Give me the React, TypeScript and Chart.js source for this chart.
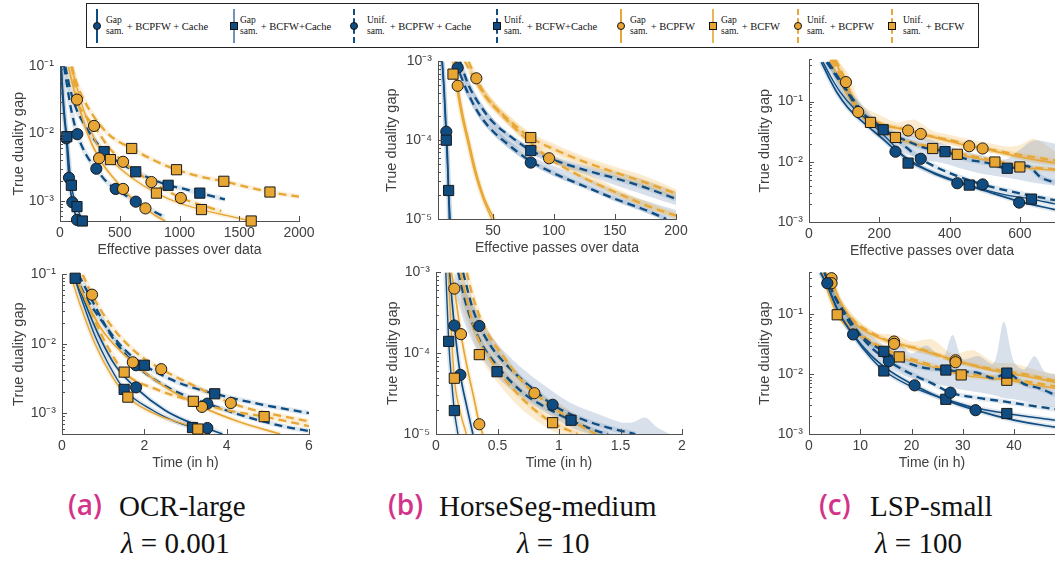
import React, { useEffect, useRef } from 'react';
import { Chart, registerables } from 'chart.js';

Chart.register(...registerables);

type P = [number, number];
type B = [number, number, number];

// ---------------- (a) OCR-large : effective passes ----------------
const aT_gPC: P[] = [[8, 0.1], [20, 0.04], [35, 0.018], [53, 0.0085], [75, 0.0022], [103, 0.00095], [142, 0.00054], [155, 0.0005]];
const aT_gPC_mk: P[] = [[53, 0.0085], [75, 0.0022], [103, 0.00095], [142, 0.00052]];
const aT_gFC: P[] = [[12, 0.1], [25, 0.04], [40, 0.018], [57, 0.009], [95, 0.0017], [142, 0.00082], [187, 0.0005]];
const aT_gFC_mk: P[] = [[57, 0.009], [95, 0.0017], [142, 0.00082], [187, 0.0005]];
const aT_uPC: P[] = [[35, 0.1], [60, 0.05], [100, 0.02], [145, 0.0098], [220, 0.0048], [304, 0.003], [380, 0.002], [466, 0.0015], [550, 0.0012], [634, 0.00097], [750, 0.00075], [870, 0.00058]];
const aT_uPC_mk: P[] = [[145, 0.0098], [304, 0.003], [466, 0.0015], [634, 0.00097]];
const aT_uFC: P[] = [[45, 0.1], [80, 0.05], [130, 0.025], [200, 0.014], [280, 0.0085], [369, 0.0054], [500, 0.0037], [634, 0.0027], [770, 0.0021], [905, 0.0017], [1040, 0.0015], [1170, 0.0013], [1380, 0.00105]];
const aT_uFC_mk: P[] = [[369, 0.0054], [634, 0.0027], [905, 0.0017], [1170, 0.0013]];
const aT_gP: P[] = [[70, 0.1], [110, 0.05], [160, 0.025], [230, 0.01], [327, 0.0043], [420, 0.0025], [528, 0.0015], [620, 0.001], [715, 0.00077], [800, 0.0006], [880, 0.0005]];
const aT_gP_mk: P[] = [[327, 0.0043], [528, 0.0015], [715, 0.00077]];
const aT_gF: P[] = [[95, 0.1], [140, 0.05], [200, 0.022], [300, 0.0075], [422, 0.0041], [600, 0.0022], [807, 0.0013], [1000, 0.00092], [1184, 0.00074], [1400, 0.0006], [1600, 0.0005]];
const aT_gF_mk: P[] = [[422, 0.0041], [807, 0.0013], [1184, 0.00074], [1600, 0.0005]];
const aT_uP: P[] = [[100, 0.1], [142, 0.032], [200, 0.02], [285, 0.013], [400, 0.0065], [528, 0.0038], [650, 0.0026], [765, 0.0019], [900, 0.0014], [1011, 0.0011], [1150, 0.0009], [1350, 0.0007]];
const aT_uP_mk: P[] = [[142, 0.032], [285, 0.013], [528, 0.0038], [765, 0.0019], [1011, 0.0011]];
const aT_uF: P[] = [[95, 0.1], [150, 0.05], [250, 0.022], [400, 0.01], [600, 0.006], [800, 0.0039], [975, 0.0029], [1171, 0.0023], [1371, 0.00195], [1570, 0.0016], [1757, 0.00135], [2000, 0.00115]];
const aT_uF_mk: P[] = [[600, 0.006], [975, 0.0029], [1371, 0.00195], [1757, 0.00135]];

// ---------------- (a) OCR-large : time ----------------
const aB_gPC: P[] = [[0.3, 0.1], [0.55, 0.04], [0.9, 0.013], [1.3, 0.0048], [1.8, 0.0023], [2.5, 0.0011], [3.0, 0.00078], [3.53, 0.0006], [3.9, 0.0005]];
const aB_gPC_mk: P[] = [[1.8, 0.00235], [3.53, 0.00061]];
const aB_gFC: P[] = [[0.28, 0.1], [0.5, 0.04], [0.8, 0.013], [1.1, 0.0055], [1.51, 0.0022], [2.2, 0.0011], [2.7, 0.00078], [3.17, 0.00062], [3.6, 0.0005]];
const aB_gFC_mk: P[] = [[1.51, 0.0022], [3.17, 0.00062]];
const aB_uPC: P[] = [[0.4, 0.1], [0.75, 0.04], [1.2, 0.013], [1.8, 0.0049], [2.6, 0.0023], [3.53, 0.00137], [4.5, 0.00088], [5.3, 0.00066], [6, 0.00055]];
const aB_uPC_mk: P[] = [[1.8, 0.0049], [3.53, 0.00137]];
const aB_uFC: P[] = [[0.3, 0.1], [0.6, 0.045], [1.0, 0.02], [1.5, 0.0085], [2.0, 0.0049], [2.8, 0.0028], [3.71, 0.0019], [4.8, 0.00135], [6, 0.001]];
const aB_uFC_mk: P[] = [[0.32, 0.088], [2.0, 0.0049], [3.71, 0.0019]];
const aB_gP: P[] = [[0.3, 0.1], [0.6, 0.04], [1.0, 0.015], [1.72, 0.0054], [2.5, 0.0024], [3.4, 0.00123], [4.3, 0.00075], [5.3, 0.0005]];
const aB_gP_mk: P[] = [[1.72, 0.0054], [3.4, 0.00123]];
const aB_gF: P[] = [[0.2, 0.1], [0.45, 0.035], [0.8, 0.01], [1.2, 0.0035], [1.6, 0.0017], [2.3, 0.00095], [3.3, 0.00059], [3.5, 0.0005]];
const aB_gF_mk: P[] = [[1.6, 0.0017], [3.3, 0.00059]];
const aB_uP: P[] = [[0.5, 0.1], [0.73, 0.051], [1.2, 0.018], [1.8, 0.0075], [2.41, 0.0043], [3.2, 0.0025], [4.1, 0.0014], [5, 0.001], [6, 0.00076]];
const aB_uP_mk: P[] = [[0.73, 0.051], [2.41, 0.0043], [4.1, 0.0014]];
const aB_uF: P[] = [[0.3, 0.1], [0.6, 0.04], [1.0, 0.012], [1.51, 0.0039], [2.3, 0.0022], [3.19, 0.00148], [4.0, 0.0011], [4.91, 0.00089], [6, 0.00065]];
const aB_uF_mk: P[] = [[1.51, 0.0039], [3.19, 0.00148], [4.91, 0.00089]];

// ---------------- (b) HorseSeg-medium : effective passes ----------------
const bT_gPC: P[] = [[8.5, 0.001], [10, 0.00045], [11.8, 0.000128], [13, 0.00005], [14.3, 0.00001]];
const bT_gPC_mk: P[] = [[11.8, 0.000128]];
const bT_gFC: P[] = [[8.3, 0.001], [10, 0.0004], [11.8, 0.0001], [13.7, 0.000023], [15, 0.00001]];
const bT_gFC_mk: P[] = [[11.8, 0.0001], [13.7, 0.000023]];
const bT_uPC: P[] = [[19, 0.001], [21.1, 0.00083], [30, 0.00038], [40, 0.0002], [50, 0.00013], [65, 0.000082], [81, 0.000054], [100, 0.000038], [120, 0.000028], [150, 0.000018], [175, 0.000013], [192, 0.00001]];
const bT_uPC_mk: P[] = [[21.1, 0.00083], [81, 0.000052]];
const bT_uFC: P[] = [[23, 0.001], [30, 0.0005], [40, 0.00027], [50, 0.00017], [65, 0.00011], [81, 0.000074], [100, 0.000056], [125, 0.000042], [150, 0.000033], [175, 0.000025], [200, 0.000018]];
const bT_uFC_mk: P[] = [[81, 0.000074]];
const bT_gP: P[] = [[19, 0.001], [21.1, 0.0005], [25, 0.00022], [30, 0.0001], [36, 0.00004], [43, 0.000018], [51, 0.00001]];
const bT_gP_mk: P[] = [[21.1, 0.00049]];
const bT_gF: P[] = [[17, 0.001], [20, 0.0005], [24, 0.00022], [29, 0.0001], [35, 0.00004], [42, 0.000018], [49, 0.00001]];
const bT_gF_mk: P[] = [[17.3, 0.00069]];
const bT_uP: P[] = [[30, 0.001], [36.4, 0.00061], [45, 0.00035], [60, 0.00019], [80, 0.000095], [96, 0.000059], [120, 0.000036], [150, 0.000022], [175, 0.000015], [200, 0.000011]];
const bT_uP_mk: P[] = [[36.4, 0.00061], [96, 0.000059]];
const bT_uF: P[] = [[27, 0.001], [35, 0.0006], [45, 0.00034], [60, 0.0002], [81, 0.000108], [100, 0.000077], [125, 0.000053], [150, 0.000039], [175, 0.000029], [200, 0.000021]];
const bT_uF_mk: P[] = [[81, 0.000108]];
const bT_uPC_band: B[] = [[25, 0.00048, 0.00062], [40, 0.00018, 0.00023], [60, 0.000085, 0.00011], [81, 0.00005, 0.000064], [100, 0.000035, 0.000047], [125, 0.000025, 0.000034], [150, 0.000017, 0.000023], [175, 0.000012, 0.000017], [200, 0.0000085, 0.000013]];
const bT_uFC_band: B[] = [[25, 0.00065, 0.00085], [40, 0.00024, 0.0003], [60, 0.0001, 0.00013], [81, 0.000066, 0.000083], [100, 0.00005, 0.000063], [125, 0.000037, 0.000048], [150, 0.000027, 0.00004], [175, 0.00002, 0.000031], [200, 0.000015, 0.000022]];
const bT_uF_band: B[] = [[30, 0.0007, 0.00095], [45, 0.00029, 0.0004], [60, 0.00017, 0.00023], [81, 0.000093, 0.000125], [100, 0.000066, 0.00009], [125, 0.000046, 0.000062], [150, 0.000034, 0.000046], [175, 0.000025, 0.000035], [200, 0.000018, 0.000024]];
const bT_uP_band: B[] = [[40, 0.00042, 0.00052], [60, 0.00017, 0.00021], [80, 0.000085, 0.000105], [100, 0.000052, 0.000064], [125, 0.000032, 0.00004], [150, 0.00002, 0.000025], [175, 0.000014, 0.000017], [200, 0.00001, 0.000012]];

// ---------------- (b) HorseSeg-medium : time ----------------
const bB_gFC: P[] = [[0.08, 0.001], [0.103, 0.00014], [0.13, 0.00004], [0.149, 0.0000195], [0.178, 0.00001]];
const bB_gFC_mk: P[] = [[0.103, 0.00014], [0.149, 0.0000195]];
const bB_gPC: P[] = [[0.11, 0.001], [0.149, 0.00022], [0.198, 0.000054], [0.25, 0.000022], [0.3, 0.00001]];
const bB_gPC_mk: P[] = [[0.149, 0.00022], [0.198, 0.000054]];
const bB_gP: P[] = [[0.125, 0.001], [0.149, 0.00063], [0.203, 0.00017], [0.26, 0.00006], [0.31, 0.000027], [0.352, 0.0000135], [0.38, 0.00001]];
const bB_gP_mk: P[] = [[0.149, 0.00063], [0.203, 0.000172], [0.352, 0.0000132]];
const bB_gF: P[] = [[0.1, 0.001], [0.12, 0.00025], [0.149, 0.000049], [0.2, 0.000018], [0.247, 0.00001]];
const bB_gF_mk: P[] = [[0.149, 0.000049]];
const bB_uPC: P[] = [[0.22, 0.001], [0.3, 0.00035], [0.352, 0.00022], [0.45, 0.00012], [0.6, 0.000065], [0.8, 0.000035], [0.948, 0.000023], [1.2, 0.000015], [1.4, 0.000012], [1.62, 0.00001]];
const bB_uPC_mk: P[] = [[0.352, 0.000217], [0.948, 0.000023]];
const bB_uFC: P[] = [[0.18, 0.001], [0.25, 0.00038], [0.35, 0.00015], [0.496, 0.00007], [0.7, 0.000033], [0.9, 0.000021], [1.098, 0.0000148], [1.3, 0.000011], [1.4, 0.00001]];
const bB_uFC_mk: P[] = [[0.496, 0.000059], [1.098, 0.0000148]];
const bB_uP: P[] = [[0.25, 0.001], [0.3, 0.0005], [0.4, 0.0002], [0.55, 0.00009], [0.7, 0.000045], [0.8, 0.000032], [1.0, 0.000019], [1.2, 0.000012], [1.3, 0.00001]];
const bB_uP_mk: P[] = [[0.8, 0.000032]];
const bB_uF: P[] = [[0.2, 0.001], [0.28, 0.0003], [0.352, 0.00014], [0.45, 0.00008], [0.6, 0.00004], [0.8, 0.00002], [0.948, 0.0000138], [1.15, 0.00001]];
const bB_uF_mk: P[] = [[0.352, 0.000096], [0.948, 0.0000138]];
const bB_blueBand: B[] = [[0.15, 0.0006, 0.001], [0.25, 0.0002, 0.00055], [0.35, 0.0001, 0.00028], [0.5, 0.00005, 0.00013], [0.7, 0.000028, 0.000065], [0.9, 0.000018, 0.000038], [1.1, 0.000012, 0.000024], [1.3, 0.0000095, 0.000018], [1.5, 0.0000085, 0.000014], [1.6, 0.0000085, 0.000014], [1.7, 0.000008, 0.000016], [1.8, 0.000008, 0.000012], [1.9, 0.000008, 0.00001]];
const bB_orangeBand: B[] = [[0.2, 0.0004, 0.001], [0.3, 0.00015, 0.00045], [0.4, 0.00007, 0.00022], [0.55, 0.000035, 0.0001], [0.7, 0.00002, 0.00005], [0.9, 0.000012, 0.000028], [1.0, 0.00001, 0.000024], [1.1, 0.000009, 0.000019], [1.2, 0.000008, 0.000014], [1.35, 0.000008, 0.00001]];

// ---------------- (c) LSP-small : effective passes ----------------
const cT_gPC: P[] = [[35, 0.45], [55, 0.26], [80, 0.14], [110, 0.08], [160, 0.042], [210, 0.024], [246, 0.0155], [300, 0.0095], [360, 0.0062], [422, 0.0046], [500, 0.0033], [598, 0.0022], [700, 0.0016]];
const cT_gPC_mk: P[] = [[246, 0.0147], [422, 0.0044], [598, 0.0021]];
const cT_gFC: P[] = [[40, 0.45], [60, 0.27], [90, 0.14], [130, 0.075], [180, 0.042], [230, 0.022], [282, 0.0105], [350, 0.0068], [456, 0.0041], [550, 0.0029], [633, 0.0024], [700, 0.002]];
const cT_gFC_mk: P[] = [[282, 0.0095], [456, 0.0041], [633, 0.0024]];
const cT_uPC: P[] = [[50, 0.45], [80, 0.25], [110, 0.14], [140, 0.075], [200, 0.04], [260, 0.021], [318, 0.0112], [400, 0.0065], [494, 0.0042], [600, 0.003], [700, 0.0023]];
const cT_uPC_mk: P[] = [[318, 0.0112], [494, 0.0042]];
const cT_uFC: P[] = [[55, 0.45], [90, 0.22], [130, 0.1], [170, 0.05], [211, 0.034], [280, 0.022], [330, 0.017], [387, 0.0147], [450, 0.011], [510, 0.0095], [564, 0.0078], [620, 0.0085], [660, 0.0055], [700, 0.0045]];
const cT_uFC_mk: P[] = [[211, 0.034], [387, 0.0147], [564, 0.0078]];
const cT_gP: P[] = [[70, 0.5], [105, 0.21], [140, 0.075], [200, 0.045], [282, 0.033], [318, 0.029], [400, 0.022], [456, 0.0181], [494, 0.0166], [600, 0.012], [700, 0.0095]];
const cT_gP_mk: P[] = [[105, 0.21], [282, 0.033], [456, 0.0181]];
const cT_uP: P[] = [[75, 0.5], [105, 0.22], [140, 0.067], [200, 0.042], [282, 0.034], [318, 0.029], [400, 0.023], [494, 0.017], [600, 0.013], [700, 0.0105]];
const cT_uP_mk: P[] = [[140, 0.067], [318, 0.029], [494, 0.0166]];
const cT_gF: P[] = [[60, 0.5], [90, 0.2], [130, 0.085], [175, 0.045], [246, 0.0253], [352, 0.0166], [422, 0.0133], [529, 0.0099], [600, 0.0082], [700, 0.0072]];
const cT_gF_mk: P[] = [[175, 0.045], [352, 0.0166], [529, 0.0099]];
const cT_uF: P[] = [[65, 0.5], [100, 0.2], [140, 0.07], [175, 0.046], [246, 0.0253], [352, 0.0175], [422, 0.014], [529, 0.0105], [600, 0.0085], [700, 0.0075]];
const cT_uF_mk: P[] = [[246, 0.0253], [422, 0.0133], [600, 0.0082]];
const cT_blueBand: B[] = [[60, 0.35, 0.5], [100, 0.11, 0.2], [150, 0.05, 0.09], [200, 0.025, 0.045], [260, 0.015, 0.03], [320, 0.011, 0.026], [380, 0.0095, 0.02], [440, 0.0075, 0.015], [500, 0.0062, 0.0125], [560, 0.0055, 0.011], [600, 0.005, 0.016], [640, 0.0045, 0.0226], [700, 0.004, 0.02]];
const cT_orangeBand: B[] = [[80, 0.3, 0.5], [110, 0.12, 0.3], [150, 0.055, 0.09], [200, 0.036, 0.06], [250, 0.028, 0.045], [300, 0.025, 0.05], [350, 0.02, 0.033], [400, 0.019, 0.028], [450, 0.016, 0.024], [500, 0.0145, 0.021], [560, 0.0125, 0.018], [600, 0.011, 0.019], [640, 0.0095, 0.024], [700, 0.0085, 0.015]];

// ---------------- (c) LSP-small : time ----------------
const cB_gPC: P[] = [[2.2, 0.5], [3.57, 0.3], [5.5, 0.12], [8.6, 0.046], [12, 0.021], [16, 0.011], [20.6, 0.0065], [26, 0.0039], [32.5, 0.0025], [40, 0.0017], [48, 0.0013]];
const cB_gPC_mk: P[] = [[3.57, 0.33], [8.6, 0.046], [20.6, 0.0065], [32.5, 0.0025]];
const cB_gFC: P[] = [[2.3, 0.5], [4, 0.25], [6, 0.1], [9, 0.04], [12, 0.019], [14.6, 0.0115], [20, 0.0062], [26.7, 0.0038], [32, 0.0028], [38.6, 0.0022], [48, 0.0017]];
const cB_gFC_mk: P[] = [[14.6, 0.0113], [26.7, 0.0038], [38.6, 0.0022]];
const cB_uPC: P[] = [[3, 0.5], [5, 0.2], [8, 0.08], [11, 0.035], [15.6, 0.0165], [20, 0.01], [24, 0.007], [27.6, 0.0049], [33, 0.004], [38, 0.0035], [43, 0.003], [48, 0.0026]];
const cB_uPC_mk: P[] = [[15.6, 0.0165], [27.6, 0.0049]];
const cB_uFC: P[] = [[3, 0.5], [5, 0.2], [8, 0.07], [11, 0.038], [14.6, 0.024], [18, 0.017], [22, 0.013], [26.7, 0.0117], [30, 0.011], [33, 0.0105], [36, 0.0085], [38.6, 0.0104], [42, 0.0068], [45, 0.0058], [48, 0.0045]];
const cB_uFC_mk: P[] = [[14.6, 0.024], [26.7, 0.0117], [38.6, 0.0104]];
const cB_gP: P[] = [[3, 0.5], [4.4, 0.38], [6, 0.17], [9, 0.07], [13, 0.043], [16.6, 0.034], [22, 0.025], [28.6, 0.017], [35, 0.012], [42, 0.0093], [48, 0.0073]];
const cB_gP_mk: P[] = [[4.4, 0.4], [16.6, 0.035], [28.6, 0.017]];
const cB_uP: P[] = [[3.2, 0.5], [4.4, 0.33], [6, 0.16], [9, 0.075], [13, 0.045], [16.6, 0.033], [22, 0.026], [28.6, 0.0165], [35, 0.0125], [42, 0.01], [48, 0.0078]];
const cB_uP_mk: P[] = [[4.4, 0.33], [16.6, 0.032], [28.6, 0.0158]];
const cB_gF: P[] = [[2.5, 0.5], [4, 0.2], [5.5, 0.098], [9, 0.05], [13, 0.03], [17.6, 0.0194], [23, 0.014], [29.7, 0.0097], [38.6, 0.0079], [48, 0.0058]];
const cB_gF_mk: P[] = [[5.5, 0.098], [29.7, 0.0097]];
const cB_uF: P[] = [[2.8, 0.5], [5.5, 0.11], [9, 0.055], [13, 0.032], [17.6, 0.021], [23, 0.015], [29.7, 0.0105], [38.6, 0.0085], [48, 0.0063]];
const cB_uF_mk: P[] = [[17.6, 0.0194], [38.6, 0.0079]];
const cB_blueBand: B[] = [[3, 0.3, 0.5], [6, 0.09, 0.16], [9, 0.04, 0.075], [12, 0.022, 0.045], [15, 0.014, 0.03], [18, 0.01, 0.03], [20, 0.0085, 0.022], [23, 0.0075, 0.03], [26, 0.0065, 0.018], [28, 0.006, 0.045], [30, 0.0055, 0.018], [33, 0.005, 0.02], [36, 0.0045, 0.015], [38, 0.004, 0.075], [40, 0.0038, 0.016], [42, 0.0035, 0.012], [44, 0.0032, 0.02], [46, 0.003, 0.011], [48, 0.0028, 0.01]];
const cB_orangeBand: B[] = [[4, 0.3, 0.5], [6, 0.13, 0.2], [9, 0.06, 0.09], [13, 0.037, 0.05], [17, 0.028, 0.045], [20, 0.024, 0.035], [24, 0.02, 0.038], [28, 0.016, 0.022], [32, 0.013, 0.025], [36, 0.011, 0.016], [40, 0.0095, 0.015], [44, 0.0085, 0.012], [48, 0.007, 0.01]];

// ---------------- ticks / labels ----------------
const passTicksA = [0, 500, 1000, 1500, 2000];
const passLabelsA = ['0', '500', '1000', '1500', '2000'];
const timeTicksA = [0, 2, 4, 6];
const timeLabelsA = ['0', '2', '4', '6'];
const passTicksB = [50, 100, 150, 200];
const passLabelsB = ['50', '100', '150', '200'];
const timeTicksB = [0, 0.5, 1, 1.5, 2];
const timeLabelsB = ['0', '0.5', '1', '1.5', '2'];
const passTicksC = [0, 200, 400, 600];
const passLabelsC = ['0', '200', '400', '600'];
const timeTicksC = [0, 10, 20, 30, 40];
const timeLabelsC = ['0', '10', '20', '30', '40'];
const yTicksA = [0.001, 0.01, 0.1];
const yLabelsA = ['10⁻³', '10⁻²', '10⁻¹'];
const yTicksB = [0.00001, 0.0001, 0.001];
const yLabelsB = ['10⁻⁵', '10⁻⁴', '10⁻³'];
const yTicksC = [0.001, 0.01, 0.1];
const yLabelsC = ['10⁻³', '10⁻²', '10⁻¹'];

const legendTop = ['Gap', 'Gap', 'Unif.', 'Unif.', 'Gap', 'Gap', 'Unif.', 'Unif.'];
const legendBottom = ['sam.', 'sam.', 'sam.', 'sam.', 'sam.', 'sam.', 'sam.', 'sam.'];
const legendMethod = ['+ BCPFW + Cache', '+ BCFW+Cache', '+ BCPFW + Cache', '+ BCFW+Cache', '+ BCPFW', '+ BCFW', '+ BCPFW', '+ BCFW'];

const captionTags = ['(a)', '(b)', '(c)'];
const captionNames = ['OCR-large', 'HorseSeg-medium', 'LSP-small'];
const captionLambdas = ['0.001', '10', '100'];

// ---------------- styling ----------------
const BLUE = '#0f4c81';
const ORANGE = '#e8a735';
const BAND_BLUE = 'rgba(112,142,182,0.28)';
const BAND_ORANGE = 'rgba(240,185,90,0.28)';
const TXT = '#404040';
const AX = '#505050';
const SANS = "'Liberation Sans', Arial, Helvetica, sans-serif";
const SERIF = "'Liberation Serif', 'Times New Roman', serif";
const PT = 10;
const PR = 22;
const XH = 38;

type Key = 'gPC' | 'gFC' | 'uPC' | 'uFC' | 'gP' | 'gF' | 'uP' | 'uF';
const STYLES: Record<Key, { color: string; halo: string; dash: number[]; marker: string; width: number }> = {
  gPC: { color: BLUE, halo: 'rgba(15,76,129,0.13)', dash: [], marker: 'circle', width: 1.7 },
  gFC: { color: BLUE, halo: 'rgba(15,76,129,0.13)', dash: [], marker: 'rect', width: 1.4 },
  uPC: { color: BLUE, halo: 'rgba(15,76,129,0.13)', dash: [8, 5], marker: 'circle', width: 2.3 },
  uFC: { color: BLUE, halo: 'rgba(15,76,129,0.13)', dash: [8, 5], marker: 'rect', width: 2.3 },
  gP: { color: ORANGE, halo: 'rgba(232,167,53,0.16)', dash: [], marker: 'circle', width: 1.7 },
  gF: { color: ORANGE, halo: 'rgba(232,167,53,0.16)', dash: [], marker: 'rect', width: 1.4 },
  uP: { color: ORANGE, halo: 'rgba(232,167,53,0.16)', dash: [8, 5], marker: 'circle', width: 2.3 },
  uF: { color: ORANGE, halo: 'rgba(232,167,53,0.16)', dash: [8, 5], marker: 'rect', width: 2.3 },
};

interface Series { key: Key; line: P[]; marks: P[] }
interface Band { data: B[]; color: string }
interface Panel {
  left: number; top: number; w: number; h: number; yW: number;
  xMin: number; xMax: number; yMin: number; yMax: number;
  xTicks: number[]; xLabels: string[]; yTicks: number[]; yLabels: string[];
  xTitle: string; series: Series[]; bands: Band[];
}

const PANELS: Panel[] = [
  {
    left: 60, top: 62, w: 239, h: 159, yW: 50, xMin: 0, xMax: 2000, yMin: 0.0005, yMax: 0.1,
    xTicks: passTicksA, xLabels: passLabelsA, yTicks: yTicksA, yLabels: yLabelsA, xTitle: 'Effective passes over data',
    bands: [],
    series: [
      { key: 'uF', line: aT_uF, marks: aT_uF_mk }, { key: 'uP', line: aT_uP, marks: aT_uP_mk },
      { key: 'gF', line: aT_gF, marks: aT_gF_mk }, { key: 'gP', line: aT_gP, marks: aT_gP_mk },
      { key: 'uFC', line: aT_uFC, marks: aT_uFC_mk }, { key: 'uPC', line: aT_uPC, marks: aT_uPC_mk },
      { key: 'gFC', line: aT_gFC, marks: aT_gFC_mk }, { key: 'gPC', line: aT_gPC, marks: aT_gPC_mk },
    ],
  },
  {
    left: 62, top: 270, w: 247, h: 164, yW: 52, xMin: 0, xMax: 6, yMin: 0.0005, yMax: 0.1,
    xTicks: timeTicksA, xLabels: timeLabelsA, yTicks: yTicksA, yLabels: yLabelsA, xTitle: 'Time (in h)',
    bands: [],
    series: [
      { key: 'uF', line: aB_uF, marks: aB_uF_mk }, { key: 'uP', line: aB_uP, marks: aB_uP_mk },
      { key: 'gF', line: aB_gF, marks: aB_gF_mk }, { key: 'gP', line: aB_gP, marks: aB_gP_mk },
      { key: 'uFC', line: aB_uFC, marks: aB_uFC_mk }, { key: 'uPC', line: aB_uPC, marks: aB_uPC_mk },
      { key: 'gFC', line: aB_gFC, marks: aB_gFC_mk }, { key: 'gPC', line: aB_gPC, marks: aB_gPC_mk },
    ],
  },
  {
    left: 438, top: 57, w: 238, h: 162, yW: 55, xMin: 5, xMax: 200, yMin: 0.00001, yMax: 0.001,
    xTicks: passTicksB, xLabels: passLabelsB, yTicks: yTicksB, yLabels: yLabelsB, xTitle: 'Effective passes over data',
    bands: [
      { data: bT_uF_band, color: BAND_ORANGE }, { data: bT_uP_band, color: BAND_ORANGE },
      { data: bT_uFC_band, color: BAND_BLUE }, { data: bT_uPC_band, color: BAND_BLUE },
    ],
    series: [
      { key: 'uF', line: bT_uF, marks: bT_uF_mk }, { key: 'uP', line: bT_uP, marks: bT_uP_mk },
      { key: 'gF', line: bT_gF, marks: bT_gF_mk }, { key: 'gP', line: bT_gP, marks: bT_gP_mk },
      { key: 'uFC', line: bT_uFC, marks: bT_uFC_mk }, { key: 'uPC', line: bT_uPC, marks: bT_uPC_mk },
      { key: 'gFC', line: bT_gFC, marks: bT_gFC_mk }, { key: 'gPC', line: bT_gPC, marks: bT_gPC_mk },
    ],
  },
  {
    left: 436, top: 268, w: 246, h: 166, yW: 52, xMin: 0, xMax: 2, yMin: 0.00001, yMax: 0.001,
    xTicks: timeTicksB, xLabels: timeLabelsB, yTicks: yTicksB, yLabels: yLabelsB, xTitle: 'Time (in h)',
    bands: [{ data: bB_blueBand, color: BAND_BLUE }, { data: bB_orangeBand, color: BAND_ORANGE }],
    series: [
      { key: 'uF', line: bB_uF, marks: bB_uF_mk }, { key: 'uP', line: bB_uP, marks: bB_uP_mk },
      { key: 'gF', line: bB_gF, marks: bB_gF_mk }, { key: 'gP', line: bB_gP, marks: bB_gP_mk },
      { key: 'uFC', line: bB_uFC, marks: bB_uFC_mk }, { key: 'uPC', line: bB_uPC, marks: bB_uPC_mk },
      { key: 'gFC', line: bB_gFC, marks: bB_gFC_mk }, { key: 'gPC', line: bB_gPC, marks: bB_gPC_mk },
    ],
  },
  {
    left: 809, top: 55, w: 246, h: 167, yW: 53, xMin: 0, xMax: 700, yMin: 0.001, yMax: 0.5,
    xTicks: passTicksC, xLabels: passLabelsC, yTicks: yTicksC, yLabels: yLabelsC, xTitle: 'Effective passes over data',
    bands: [{ data: cT_blueBand, color: BAND_BLUE }, { data: cT_orangeBand, color: BAND_ORANGE }],
    series: [
      { key: 'uFC', line: cT_uFC, marks: cT_uFC_mk }, { key: 'uPC', line: cT_uPC, marks: cT_uPC_mk },
      { key: 'gFC', line: cT_gFC, marks: cT_gFC_mk }, { key: 'gPC', line: cT_gPC, marks: cT_gPC_mk },
      { key: 'uF', line: cT_uF, marks: cT_uF_mk }, { key: 'uP', line: cT_uP, marks: cT_uP_mk },
      { key: 'gF', line: cT_gF, marks: cT_gF_mk }, { key: 'gP', line: cT_gP, marks: cT_gP_mk },
    ],
  },
  {
    left: 809, top: 268, w: 246, h: 166, yW: 53, xMin: 0, xMax: 48, yMin: 0.001, yMax: 0.5,
    xTicks: timeTicksC, xLabels: timeLabelsC, yTicks: yTicksC, yLabels: yLabelsC, xTitle: 'Time (in h)',
    bands: [{ data: cB_blueBand, color: BAND_BLUE }, { data: cB_orangeBand, color: BAND_ORANGE }],
    series: [
      { key: 'uFC', line: cB_uFC, marks: cB_uFC_mk }, { key: 'uPC', line: cB_uPC, marks: cB_uPC_mk },
      { key: 'gFC', line: cB_gFC, marks: cB_gFC_mk }, { key: 'gPC', line: cB_gPC, marks: cB_gPC_mk },
      { key: 'uF', line: cB_uF, marks: cB_uF_mk }, { key: 'uP', line: cB_uP, marks: cB_uP_mk },
      { key: 'gF', line: cB_gF, marks: cB_gF_mk }, { key: 'gP', line: cB_gP, marks: cB_gP_mk },
    ],
  },
];

const toXY = (arr: P[]) => arr.map(([x, y]) => ({ x, y }));

function buildDatasets(p: Panel) {
  const ds: any[] = [];
  p.bands.forEach((b) => {
    ds.push({ data: b.data.map(([x, lo]) => ({ x, y: lo })), borderColor: 'rgba(0,0,0,0)', borderWidth: 1, pointRadius: 0, fill: false, order: 4, tension: 0.3 });
    ds.push({ data: b.data.map(([x, , hi]) => ({ x, y: hi })), borderColor: 'rgba(0,0,0,0)', borderWidth: 1, pointRadius: 0, fill: '-1', backgroundColor: b.color, order: 4, tension: 0.3 });
  });
  p.series.forEach((s) => {
    const st = STYLES[s.key];
    ds.push({ data: toXY(s.line), borderColor: st.halo, borderWidth: 5, pointRadius: 0, fill: false, order: 3, cubicInterpolationMode: 'monotone' });
  });
  p.series.forEach((s) => {
    const st = STYLES[s.key];
    ds.push({ data: toXY(s.line), borderColor: st.color, borderWidth: st.width, borderDash: st.dash, pointRadius: 0, fill: false, order: 2, cubicInterpolationMode: 'monotone' });
  });
  p.series.forEach((s) => {
    const st = STYLES[s.key];
    ds.push({
      data: toXY(s.marks), showLine: false, pointStyle: st.marker, pointRadius: st.marker === 'rect' ? 7.2 : 5.6,
      backgroundColor: st.color, borderColor: '#1a1a1a', borderWidth: 1, order: 1, clip: false,
    });
  });
  return ds;
}

const inwardTicks = {
  id: 'inwardTicks',
  afterDraw(chart: any) {
    const { ctx, chartArea } = chart;
    const xs = chart.scales.x;
    const ys = chart.scales.y;
    ctx.save();
    ctx.strokeStyle = AX;
    ctx.lineWidth = 1;
    const lo = Math.floor(Math.log10(ys.min));
    const hi = Math.ceil(Math.log10(ys.max));
    for (let e = lo; e <= hi; e++) {
      for (let m = 1; m < 10; m++) {
        const v = m * Math.pow(10, e);
        if (v < ys.min * 0.999 || v > ys.max * 1.001) continue;
        const py = Math.round(ys.getPixelForValue(v)) + 0.5;
        const len = m === 1 ? 5 : 3;
        ctx.beginPath();
        ctx.moveTo(chartArea.left, py);
        ctx.lineTo(chartArea.left + len, py);
        ctx.stroke();
      }
    }
    xs.ticks.forEach((t: any) => {
      const px = Math.round(xs.getPixelForValue(t.value)) + 0.5;
      ctx.beginPath();
      ctx.moveTo(px, chartArea.bottom);
      ctx.lineTo(px, chartArea.bottom - 5);
      ctx.stroke();
    });
    ctx.restore();
  },
};

function makeConfig(p: Panel): any {
  return {
    type: 'line',
    data: { datasets: buildDatasets(p) },
    plugins: [inwardTicks],
    options: {
      animation: false,
      responsive: false,
      maintainAspectRatio: false,
      events: [],
      layout: { padding: { top: PT, right: PR, left: 0, bottom: 0 } },
      plugins: { legend: { display: false }, tooltip: { enabled: false } },
      scales: {
        x: {
          type: 'linear', min: p.xMin, max: p.xMax,
          afterBuildTicks: (s: any) => { s.ticks = p.xTicks.map((v) => ({ value: v })); },
          afterFit: (s: any) => { s.height = XH; },
          grid: { display: false, drawTicks: false },
          border: { display: true, color: AX, width: 1 },
          ticks: {
            padding: 4, color: TXT, font: { family: SANS, size: 14 }, maxRotation: 0, minRotation: 0, autoSkip: false,
            callback: (_v: any, i: number) => p.xLabels[i],
          },
          title: { display: true, text: p.xTitle, color: TXT, font: { family: SANS, size: 14 }, padding: 0 },
        },
        y: {
          type: 'logarithmic', min: p.yMin, max: p.yMax,
          afterBuildTicks: (s: any) => { s.ticks = p.yTicks.map((v) => ({ value: v })); },
          afterFit: (s: any) => { s.width = p.yW; },
          grid: { display: false, drawTicks: false },
          border: { display: true, color: AX, width: 1 },
          ticks: {
            padding: 6, color: TXT, font: { family: SANS, size: 14 }, autoSkip: false,
            callback: (_v: any, i: number) => p.yLabels[i],
          },
          title: { display: true, text: 'True duality gap', color: TXT, font: { family: SANS, size: 14.5 }, padding: 0 },
        },
      },
    },
  };
}

function PanelChart({ p }: { p: Panel }) {
  const ref = useRef<HTMLCanvasElement>(null);
  useEffect(() => {
    const chart = new Chart(ref.current as HTMLCanvasElement, makeConfig(p));
    return () => chart.destroy();
  }, [p]);
  const cw = p.yW + p.w + PR;
  const ch = PT + p.h + XH;
  return (
    <canvas
      ref={ref}
      width={cw}
      height={ch}
      style={{ position: 'absolute', left: p.left - p.yW, top: p.top - PT, width: cw, height: ch }}
    />
  );
}

const LEGEND_ICON_X = [97, 234, 354, 497, 621, 713, 798, 892];
const LEGEND_TEXT_X = [106, 240, 367, 504, 630, 721, 807, 903];
const LEGEND_KEYS: Key[] = ['gPC', 'gFC', 'uPC', 'uFC', 'gP', 'gF', 'uP', 'uF'];

function Legend() {
  return (
    <div>
      <div style={{ position: 'absolute', left: 86, top: 3, width: 893, height: 45, border: '1px solid #222', boxSizing: 'border-box', background: '#fff' }} />
      {LEGEND_KEYS.map((k, i) => {
        const st = STYLES[k];
        const dashed = st.dash.length > 0;
        const light = k === 'gFC' ? '#6f93bd' : k === 'gF' ? '#eab65a' : st.color;
        return (
          <React.Fragment key={k}>
            <div style={{ position: 'absolute', left: LEGEND_ICON_X[i] - 1, top: 9, height: 34, width: 0, borderLeft: `2px ${dashed ? 'dashed' : 'solid'} ${light}` }} />
            <div style={{
              position: 'absolute', left: LEGEND_ICON_X[i] - 4, top: 22, width: 8, height: 8, boxSizing: 'border-box',
              background: st.color, border: '1px solid #111', borderRadius: st.marker === 'circle' ? '50%' : 0,
            }} />
            <div style={{ position: 'absolute', left: LEGEND_TEXT_X[i], top: 12, height: 28, display: 'flex', alignItems: 'center', whiteSpace: 'nowrap', fontFamily: SERIF, color: '#111' }}>
              <div style={{ display: 'flex', flexDirection: 'column', fontSize: 9.5, lineHeight: '11px' }}>
                <span>{legendTop[i]}</span>
                <span>{legendBottom[i]}</span>
              </div>
              <span style={{ fontSize: 10.5, marginLeft: 3 }}>{legendMethod[i]}</span>
            </div>
          </React.Fragment>
        );
      })}
    </div>
  );
}

const CAP_TAG_X = [68, 388, 819];
const CAP_NAME_X = [119, 439, 870];
const CAP_LAM_X = [121, 517, 875];

function Captions() {
  return (
    <div>
      {captionTags.map((t, i) => (
        <React.Fragment key={t}>
          <div style={{ position: 'absolute', left: CAP_TAG_X[i], top: 490, fontFamily: "'Open Sans', 'Noto Sans', sans-serif", fontWeight: 600, fontSize: 28, lineHeight: '29px', color: '#d3348a', whiteSpace: 'nowrap' }}>{t}</div>
          <div style={{ position: 'absolute', left: CAP_NAME_X[i], top: 492, fontFamily: SERIF, fontSize: 29, lineHeight: '29px', color: '#111', whiteSpace: 'nowrap' }}>{captionNames[i]}</div>
          <div style={{ position: 'absolute', left: CAP_LAM_X[i], top: 529, fontFamily: SERIF, fontSize: 29, lineHeight: '29px', color: '#111', whiteSpace: 'nowrap' }}>
            <span style={{ fontStyle: 'italic' }}>λ</span> = {captionLambdas[i]}
          </div>
        </React.Fragment>
      ))}
    </div>
  );
}

export default function App() {
  return (
    <div style={{ position: 'absolute', left: 0, top: 0, width: 1055, height: 562, overflow: 'hidden', background: '#fff' }}>
      {PANELS.map((p, i) => <PanelChart key={i} p={p} />)}
      <Legend />
      <Captions />
    </div>
  );
}
